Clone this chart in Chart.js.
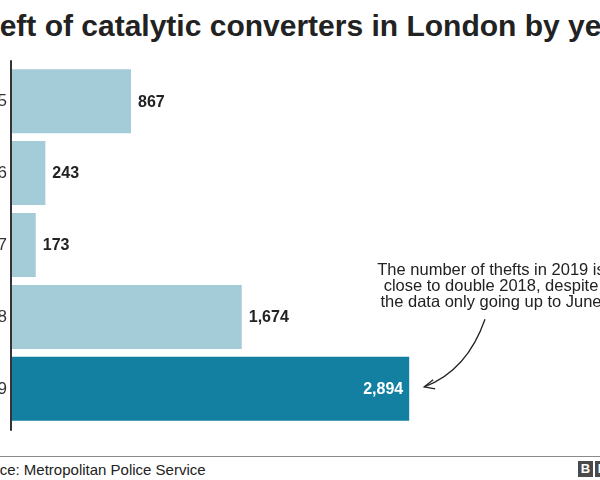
<!DOCTYPE html>
<html>
<head>
<meta charset="utf-8">
<script src="https://cdn.jsdelivr.net/npm/chart.js@4/dist/chart.umd.min.js"></script>
<style>
  html, body { margin: 0; padding: 0; background: #fff; overflow: hidden; }
  body { width: 600px; height: 480px; position: relative; font-family: "Liberation Sans", Arial, sans-serif; }
  #title { position: absolute; left: -37px; top: 9px; white-space: nowrap; font-size: 30px; font-weight: bold; color: #222; }
  #grafico { position: absolute; left: -48px; top: 50px; }
  #rule { position: absolute; left: 0; top: 456px; width: 600px; height: 1px; background: #8a8a8a; }
  #source { position: absolute; left: -32px; top: 461px; white-space: nowrap; font-size: 15px; color: #222; }
  .logo { position: absolute; top: 461px; width: 15px; height: 16px; background: #4a4a4a; color: #fff; font: bold 13px "Liberation Sans", Arial, sans-serif; text-align: center; line-height: 16px; }
</style>
</head>
<body>
<div id="title">Theft of catalytic converters in London by year</div>
<canvas id="grafico" width="648" height="390"></canvas>
<div id="rule"></div>
<div id="source">Source: Metropolitan Police Service</div>
<div class="logo" style="left:578px">B</div>
<div class="logo" style="left:595px">B</div>
<script>
/* Dados */
const anos = ["2015", "2016", "2017", "2018", "2019"];
const furtos = [867, 243, 173, 1674, 2894];
const destaque = [false, false, false, false, true];
const notaLinhas = ["The number of thefts in 2019 is", "close to double 2018, despite", "the data only going up to June"];

const corClara = "#a3ccd8";
const corEscura = "#1380a1";

/* Rótulos dos valores, linha do eixo e anotação */
const rotulos = {
  id: "rotulos",
  afterDatasetsDraw(chart) {
    const ctx = chart.ctx;
    const area = chart.chartArea;
    ctx.save();
    // linha do eixo
    ctx.strokeStyle = "#333";
    ctx.lineWidth = 2;
    ctx.beginPath();
    ctx.moveTo(area.left - 1, area.top - 5);
    ctx.lineTo(area.left - 1, area.bottom + 6);
    ctx.stroke();
    // valores
    ctx.font = "bold 16px 'Liberation Sans', Arial, sans-serif";
    ctx.textBaseline = "middle";
    chart.getDatasetMeta(0).data.forEach((bar, i) => {
      const txt = furtos[i].toLocaleString("en-GB");
      if (destaque[i]) {
        ctx.fillStyle = "#fff";
        ctx.textAlign = "right";
        ctx.fillText(txt, bar.x - 6, bar.y + 1);
      } else {
        ctx.fillStyle = "#222";
        ctx.textAlign = "left";
        ctx.fillText(txt, bar.x + 7, bar.y + 1);
      }
    });
    // anotação
    const ult = chart.getDatasetMeta(0).data[furtos.length - 1];
    const cx = area.left + 479;
    ctx.font = "16.5px 'Liberation Sans', Arial, sans-serif";
    ctx.fillStyle = "#222";
    ctx.textAlign = "center";
    notaLinhas.forEach((l, k) => ctx.fillText(l, cx, area.top + 205 + 16 * k));
    // seta
    const x0 = cx - 6, y0 = area.top + 254;
    const x1 = ult.x + 15, y1 = ult.y - 2;
    ctx.strokeStyle = "#222";
    ctx.lineWidth = 1.3;
    ctx.beginPath();
    ctx.moveTo(x0, y0);
    ctx.quadraticCurveTo(x0 - 18, y1 - 16, x1, y1);
    ctx.stroke();
    ctx.beginPath();
    ctx.moveTo(x1 + 9, y1 - 7);
    ctx.lineTo(x1, y1);
    ctx.lineTo(x1 + 11, y1 + 2);
    ctx.stroke();
    ctx.restore();
  }
};

const config = {
  type: "bar",
  data: {
    labels: anos,
    datasets: [{
      data: furtos,
      backgroundColor: destaque.map(d => d ? corEscura : corClara),
      barPercentage: 0.89,
      categoryPercentage: 1.0
    }]
  },
  options: {
    indexAxis: "y",
    responsive: false,
    animation: false,
    layout: { padding: { top: 12, bottom: 7, left: 0, right: 39 } },
    plugins: { legend: { display: false }, tooltip: { enabled: false } },
    scales: {
      x: { display: false, min: 0, max: 4000 },
      y: {
        afterFit: s => { s.width = 60; },
        border: { display: false },
        grid: { display: false, drawTicks: false },
        ticks: { padding: 5, color: "#333", font: { family: "'Liberation Sans', Arial, sans-serif", size: 17 } }
      }
    }
  },
  plugins: [rotulos]
};
const myChart = new Chart(document.getElementById("grafico"), config);
</script>
</body>
</html>
